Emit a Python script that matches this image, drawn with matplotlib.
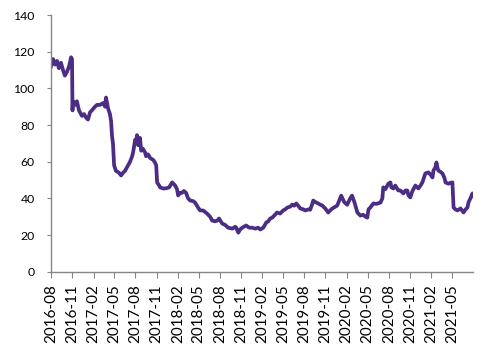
import matplotlib
matplotlib.use("Agg")
import matplotlib.pyplot as plt
import pandas as pd

# values
dates = [
    "2016-08-01", "2016-08-10", "2016-08-18", "2016-08-27", "2016-09-04", "2016-09-13",
    "2016-09-22", "2016-09-30", "2016-10-09", "2016-10-18", "2016-10-27", "2016-10-31",
    "2016-11-02", "2016-11-04", "2016-11-13", "2016-11-21", "2016-11-30", "2016-12-13",
    "2016-12-22", "2016-12-31", "2017-01-08", "2017-01-17", "2017-01-25", "2017-02-07",
    "2017-02-16", "2017-03-01", "2017-03-14", "2017-03-23", "2017-03-27", "2017-04-05",
    "2017-04-13", "2017-04-18", "2017-04-22", "2017-04-26", "2017-05-01", "2017-05-09",
    "2017-05-22", "2017-05-31", "2017-06-09", "2017-06-17", "2017-06-30", "2017-07-09",
    "2017-07-18", "2017-07-22", "2017-07-31", "2017-08-04", "2017-08-08", "2017-08-13",
    "2017-08-17", "2017-08-21", "2017-08-26", "2017-09-03", "2017-09-12", "2017-09-16",
    "2017-09-25", "2017-10-04", "2017-10-17", "2017-10-25", "2017-10-30", "2017-11-03",
    "2017-11-12", "2017-11-16", "2017-11-29", "2017-12-12", "2017-12-25", "2018-01-07",
    "2018-01-20", "2018-01-28", "2018-02-02", "2018-02-10", "2018-02-18", "2018-02-27",
    "2018-03-08", "2018-03-17", "2018-03-26", "2018-04-08", "2018-04-16", "2018-04-29",
    "2018-05-08", "2018-05-21", "2018-05-30", "2018-06-07", "2018-06-20", "2018-06-29",
    "2018-07-12", "2018-07-21", "2018-07-29", "2018-08-11", "2018-08-24", "2018-09-06",
    "2018-09-24", "2018-10-07", "2018-10-11", "2018-10-20", "2018-10-28", "2018-11-06",
    "2018-11-15", "2018-11-23", "2018-12-06", "2018-12-19", "2019-01-01", "2019-01-14",
    "2019-01-23", "2019-02-05", "2019-02-18", "2019-02-27", "2019-03-07", "2019-03-16",
    "2019-03-24", "2019-04-06", "2019-04-19", "2019-05-02", "2019-05-11", "2019-05-20",
    "2019-06-02", "2019-06-10", "2019-06-19", "2019-06-28", "2019-07-06", "2019-07-15",
    "2019-07-28", "2019-08-06", "2019-08-19", "2019-08-27", "2019-09-05", "2019-09-09",
    "2019-09-18", "2019-10-01", "2019-10-10", "2019-10-18", "2019-10-31", "2019-11-13",
    "2019-11-22", "2019-12-01", "2019-12-14", "2019-12-22", "2019-12-31", "2020-01-08",
    "2020-01-21", "2020-02-03", "2020-02-16", "2020-02-24", "2020-03-05", "2020-03-18",
    "2020-03-31", "2020-04-13", "2020-04-22", "2020-04-30", "2020-05-05", "2020-05-13",
    "2020-05-26", "2020-06-08", "2020-06-26", "2020-07-04", "2020-07-08", "2020-07-17",
    "2020-07-30", "2020-08-08", "2020-08-12", "2020-08-21", "2020-08-29", "2020-09-11",
    "2020-09-20", "2020-09-29", "2020-10-03", "2020-10-12", "2020-10-20", "2020-10-25",
    "2020-11-02", "2020-11-11", "2020-11-24", "2020-12-07", "2020-12-16", "2020-12-24",
    "2021-01-02", "2021-01-06", "2021-01-19", "2021-01-28", "2021-02-06", "2021-02-10",
    "2021-02-19", "2021-02-23", "2021-02-27", "2021-03-03", "2021-03-12", "2021-03-21",
    "2021-03-30", "2021-04-03", "2021-04-16", "2021-04-25", "2021-05-03", "2021-05-08",
    "2021-05-16", "2021-05-25", "2021-06-07", "2021-06-20", "2021-06-29", "2021-07-07",
    "2021-07-12", "2021-07-20", "2021-07-29", "2021-07-31",
]
values = [
    112, 116, 113, 115, 111, 114,
    110, 107, 109, 112, 117, 116,
    88, 93, 91, 93, 88, 85,
    86, 84, 83, 87, 88, 90,
    91, 91, 92, 90, 95, 89,
    86, 82, 74, 70, 58, 55,
    54, 52.5, 54, 55, 58, 60,
    63, 65, 72, 70, 74.5, 69,
    70, 73, 66, 67, 65, 63,
    64, 62, 61, 59.5, 58, 48.7,
    47, 46, 45.4, 45.5, 46, 48.7,
    47, 45, 41.6, 43, 43, 44,
    43, 40, 38.8, 38.5, 37.7, 35,
    33.4, 33.4, 32.5, 31.7, 30, 27.9,
    27.5, 27.9, 29, 26.3, 25.5, 24,
    23.5, 24.5, 24, 21.3, 23, 24,
    24.6, 25.2, 24, 24, 23.5, 24,
    23, 24, 26.8, 27.5, 29, 29.5,
    30.6, 32.3, 31.7, 33.4, 34, 35,
    35.5, 36.6, 36, 37.2, 36, 34.5,
    34, 33.4, 34, 33.8, 37, 38.8,
    38, 37.2, 36.5, 36.1, 34.5, 32.3,
    33.5, 34.5, 35.5, 36.1, 39, 41.5,
    38, 36.5, 40, 41.5, 38, 32.3,
    30.6, 31, 30, 29.5, 34, 35,
    37.2, 37, 37.7, 40, 46, 45,
    48, 48.7, 46, 45.4, 47, 44.3,
    44.3, 43.2, 42.7, 44.3, 44.3, 41.6,
    40.5, 44, 47, 45.4, 47, 48.7,
    52, 53.6, 54.2, 53, 51.4, 55.2,
    57, 59.6, 57, 55.2, 54.5, 53.6,
    51, 48.7, 48, 48.5, 48.7, 35,
    34, 33.4, 34.5, 32.3, 34, 35,
    38, 40, 42.7, 41.6,
]
tick_months = pd.date_range("2016-08-01", "2021-05-01", freq="3MS")
tick_labels = [d.strftime("%Y-%m") for d in tick_months]
y_ticks = [0, 20, 40, 60, 80, 100, 120, 140]

x = pd.to_datetime(dates)

plt.rcParams['font.family'] = ['Lato', 'DejaVu Sans']
fig = plt.figure(figsize=(4.95, 3.51), dpi=100)
ax = fig.add_axes([0.103, 0.226, 0.853, 0.731])

ax.plot(x, values, color='#4b2d85', lw=2.7, solid_joinstyle='round')

ax.set_xlim(pd.Timestamp("2016-08-01"), pd.Timestamp("2021-08-01"))
ax.set_ylim(0, 140)
ax.set_yticks(y_ticks)
ax.set_xticks(tick_months)
ax.set_xticklabels(tick_labels, rotation=90, fontsize=10.9)
ax.tick_params(axis='y', labelsize=8.8, length=3.2, pad=8.5, color='#868686')
ax.tick_params(axis='x', length=4.5, pad=4.5, color='#868686')

for s in ['top', 'right']:
    ax.spines[s].set_visible(False)
for s in ['left', 'bottom']:
    ax.spines[s].set_color('#868686')
    ax.spines[s].set_linewidth(1.0)

fig.savefig("out.png", dpi=100)
